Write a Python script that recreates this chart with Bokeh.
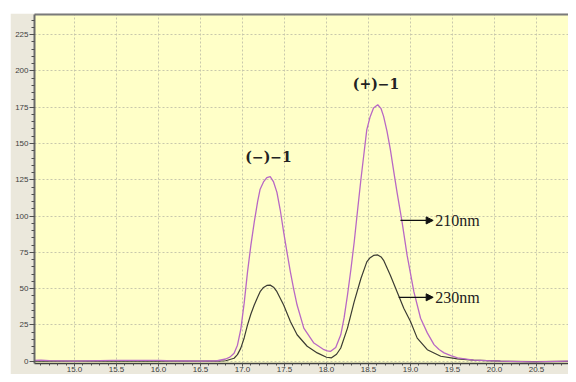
from bokeh.plotting import figure
from bokeh.models import (Range1d, Label, Arrow, NormalHead, SingleIntervalTicker,
                          LinearAxis, FixedTicker, Spacer, PrintfTickFormatter)
from bokeh.layouts import column, row
from bokeh.embed import file_html
from bokeh.resources import INLINE

# Retention time (min) and absorbance, 210 nm trace
time_210 = [14.52, 14.60, 14.70, 15.00, 15.45, 15.55, 15.70, 16.00, 16.10, 16.50, 16.70,
            16.80, 16.85, 16.90, 16.94, 16.98, 17.02, 17.06, 17.10, 17.14, 17.18, 17.21,
            17.25, 17.29, 17.33, 17.37, 17.41, 17.45, 17.49, 17.53, 17.57, 17.61, 17.65,
            17.73, 17.85, 17.97, 18.01, 18.05, 18.11, 18.17, 18.21, 18.25, 18.29, 18.33,
            18.37, 18.41, 18.45, 18.48, 18.52, 18.56, 18.61, 18.65, 18.68, 18.72, 18.76,
            18.80, 18.84, 18.90, 18.96, 19.04, 19.12, 19.20, 19.28, 19.34, 19.40, 19.48,
            19.56, 19.75, 20.07, 20.47, 21.02]
abs_210 = [0.6, 0.7, 0.4, 0.0, 0.6, 0.5, 0.5, 0.6, 0.3, 0.0, 0.3,
           1.5, 2.8, 5.5, 11.0, 22.0, 40.0, 61.5, 80.0, 95.8, 110.0, 118.5,
           123.5, 126.5, 127.2, 123.5, 116.3, 104.0, 88.9, 75.0, 61.6, 49.5, 38.7,
           22.8, 12.5, 7.9, 7.1, 6.8, 9.5, 18.2, 30.0, 45.6, 63.0, 82.1,
           104.0, 125.4, 145.0, 159.6, 168.5, 174.4, 176.7, 174.0, 168.7, 158.5, 145.9,
           131.0, 116.3, 95.8, 72.9, 47.9, 29.6, 19.5, 11.4, 8.0, 5.7, 3.8,
           2.3, 0.7, 0.0, -0.5, 0.3]

# 230 nm trace
time_230 = [14.52, 15.00, 16.00, 16.70, 16.80, 16.90, 16.94, 16.98, 17.02, 17.06, 17.10,
            17.14, 17.18, 17.21, 17.25, 17.29, 17.33, 17.37, 17.41, 17.49, 17.57, 17.65,
            17.77, 17.89, 18.00, 18.06, 18.12, 18.17, 18.25, 18.33, 18.41, 18.48, 18.52,
            18.56, 18.61, 18.65, 18.68, 18.76, 18.84, 18.92, 19.00, 19.08, 19.20, 19.36,
            19.56, 19.75, 20.07, 20.47, 21.02]
abs_230 = [0.0, 0.0, 0.0, 0.0, 0.3, 2.0, 4.5, 9.0, 16.0, 25.0, 32.5,
           38.7, 44.0, 47.9, 50.8, 52.2, 52.4, 51.0, 47.9, 38.7, 27.4, 18.2,
           10.3, 5.7, 2.7, 2.3, 4.8, 9.1, 22.8, 41.0, 57.0, 68.4, 71.3,
           72.9, 73.2, 71.8, 69.5, 59.2, 47.9, 36.5, 27.4, 15.9, 7.9, 3.4,
           1.6, 0.7, 0.0, -0.3, 0.0]

peak_labels = ["(\u2212)\u22121", "(+)\u22121"]
peak_label_x = [17.31, 18.59]
peak_label_y = [141.0, 191.0]
wave_labels = ["210nm", "230nm"]
wave_arrow_x0 = [18.88, 18.86]
wave_arrow_x1 = [19.27, 19.27]
wave_label_y = [97.0, 44.0]

fig = figure(width=558, height=361, output_backend="svg", toolbar_location=None,
             x_range=Range1d(14.524, 20.881), y_range=Range1d(-1.6, 238.9),
             x_axis_location=None, y_axis_location=None,
             min_border_left=24, min_border_top=1, min_border_right=0, min_border_bottom=0)
fig.background_fill_color = "#ffffc8"
fig.border_fill_color = "#ebe8dc"
fig.outline_line_color = None

yax = LinearAxis(ticker=SingleIntervalTicker(interval=25, num_minor_ticks=5))
yax.major_label_text_font = "Liberation Sans"
yax.major_label_text_font_size = "8px"
yax.major_label_text_color = "#404040"
yax.major_label_standoff = 1
yax.major_tick_out = 5
yax.major_tick_in = 0
yax.minor_tick_out = 3
yax.minor_tick_in = 0
yax.axis_line_color = "#6a6a6a"
yax.axis_line_width = 2
yax.major_tick_line_color = "#505050"
yax.minor_tick_line_color = "#505050"
fig.add_layout(yax, "left")

xax = LinearAxis(ticker=SingleIntervalTicker(interval=0.5, num_minor_ticks=5),
                 formatter=PrintfTickFormatter(format="%.1f"))
xax.major_label_text_font = "Liberation Sans"
xax.major_label_text_font_size = "8px"
xax.major_label_text_color = "#404040"
xax.major_label_standoff = 0
xax.major_tick_out = 3
xax.major_tick_in = 0
xax.minor_tick_out = 2
xax.minor_tick_in = 0
xax.axis_line_color = "#404040"
xax.axis_line_width = 1.5
xax.major_tick_line_color = "#505050"
xax.minor_tick_line_color = "#505050"
fig.add_layout(xax, "below")

top_ax = LinearAxis(ticker=FixedTicker(ticks=[]), major_tick_out=0, minor_tick_out=0,
                    major_label_standoff=0, axis_line_color="#7a7a7a", axis_line_width=2)
fig.add_layout(top_ax, "above")

fig.xgrid.ticker = xax.ticker
fig.ygrid.ticker = yax.ticker
for g in (fig.xgrid, fig.ygrid):
    g.grid_line_color = "#c8c8ac"
    g.grid_line_dash = "2 2"
    g.grid_line_width = 1

fig.line(time_230, abs_230, line_color="#3c3c34", line_width=1.2)
fig.line(time_210, abs_210, line_color="#b868c4", line_width=1.3)

for t, x, y in zip(peak_labels, peak_label_x, peak_label_y):
    fig.add_layout(Label(x=x, y=y, text=t, text_align="center", text_baseline="middle",
                         text_font="DejaVu Serif", text_font_style="bold",
                         text_font_size="14px", text_color="#222222"))

for t, x0, x1, y in zip(wave_labels, wave_arrow_x0, wave_arrow_x1, wave_label_y):
    fig.add_layout(Arrow(x_start=x0, y_start=y, x_end=x1, y_end=y, line_color="#111111",
                         line_width=1.3,
                         end=NormalHead(size=7, fill_color="#111111", line_color="#111111")))
    fig.add_layout(Label(x=x1, y=y, x_offset=2, text=t, text_align="left", text_baseline="middle",
                         text_font="Liberation Serif", text_font_size="16px", text_color="#222222"))

p = column(Spacer(width=568, height=13),
           row(Spacer(width=10, height=361), fig, spacing=0),
           spacing=0)

open("out.html", "w").write(file_html(p, INLINE))
